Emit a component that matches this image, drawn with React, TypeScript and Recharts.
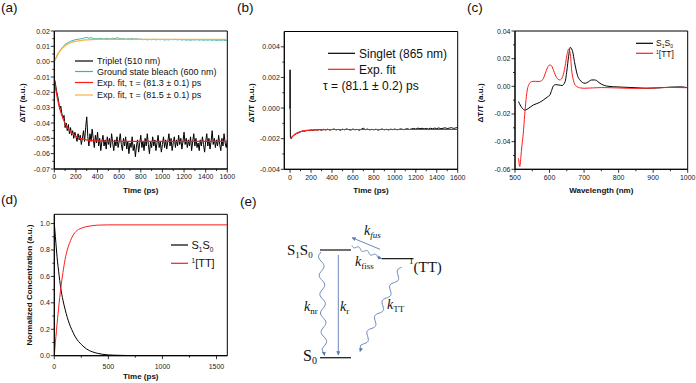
import React from 'react';
import { LineChart, Line, XAxis, YAxis, ReferenceArea } from 'recharts';

const SANS = 'Arial, "Liberation Sans", Helvetica, sans-serif';
const SERIF = '"Times New Roman", "Liberation Serif", serif';
const RED = '#ff1a1a';
const TEAL = '#3ab4b4';
const ORANGE = '#f6b042';
const BLUE = '#5a7bb0';

// ---------- (a) kinetics at 510 / 600 nm ----------
// triplet trace, one value every 10 ps from 0 ps
const tripletVals = [
  -0.011, -0.014, -0.019, -0.022, -0.026, -0.031, -0.029, -0.034, -0.037, -0.035,
  -0.043, -0.040, -0.045, -0.041, -0.047, -0.043, -0.048, -0.045, -0.050, -0.046,
  -0.049, -0.052, -0.047, -0.051, -0.048, -0.054, -0.050, -0.045, -0.052, -0.043,
  -0.036, -0.049, -0.055, -0.047, -0.052, -0.044, -0.050, -0.056, -0.048, -0.053,
  -0.046, -0.055, -0.050, -0.058, -0.052, -0.048, -0.055, -0.051, -0.057, -0.049,
  -0.054, -0.050, -0.056, -0.047, -0.053, -0.058, -0.051, -0.055, -0.049, -0.056,
  -0.052, -0.047, -0.054, -0.058, -0.050, -0.055, -0.049, -0.057, -0.052, -0.060,
  -0.053, -0.056, -0.049, -0.058, -0.054, -0.062, -0.055, -0.051, -0.059, -0.053,
  -0.048, -0.056, -0.052, -0.058, -0.050, -0.055, -0.047, -0.054, -0.060, -0.052,
  -0.056, -0.049, -0.055, -0.051, -0.058, -0.053, -0.048, -0.056, -0.052, -0.059,
  -0.054, -0.049, -0.056, -0.051, -0.057, -0.052, -0.047, -0.055, -0.050, -0.058,
  -0.053, -0.049, -0.056, -0.051, -0.055, -0.048, -0.054, -0.050, -0.057, -0.052,
  -0.046, -0.054, -0.050, -0.056, -0.051, -0.055, -0.049, -0.058, -0.052, -0.047,
  -0.055, -0.050, -0.056, -0.053, -0.058, -0.051, -0.055, -0.049, -0.054, -0.059,
  -0.052, -0.047, -0.055, -0.050, -0.057, -0.052, -0.045, -0.054, -0.050, -0.056,
  -0.051, -0.055, -0.048, -0.054, -0.058, -0.050, -0.055, -0.047, -0.053, -0.056,
  -0.051,
];
// ground state bleach, one value every 20 ps from 0 ps
const bleachVals = [
  0.0, 0.003, 0.0058, 0.008, 0.0098, 0.0112, 0.0122, 0.013, 0.0136, 0.014,
  0.0144, 0.0146, 0.0149, 0.0151, 0.0155, 0.0158, 0.0153, 0.0156, 0.0152, 0.015,
  0.0149, 0.0152, 0.015, 0.0147, 0.0152, 0.015, 0.0148, 0.0153, 0.015, 0.0156,
  0.0152, 0.0149, 0.0151, 0.0146, 0.015, 0.0148, 0.0151, 0.0147, 0.015, 0.0146,
  0.0148, 0.0143, 0.0146, 0.0142, 0.0145, 0.0143, 0.0147, 0.0142, 0.0145, 0.0143,
  0.0146, 0.0141, 0.0144, 0.0142, 0.0145, 0.0143, 0.0146, 0.0142, 0.0145, 0.0141,
  0.0144, 0.014, 0.0143, 0.0139, 0.0143, 0.0141, 0.0144, 0.014, 0.0143, 0.0139,
  0.0142, 0.014, 0.0143, 0.0139, 0.0142, 0.0138, 0.0141, 0.0139, 0.0142, 0.0138,
  0.014,
];
const tripletFit = [
  [0, -0.012], [10, -0.0166], [20, -0.0207], [30, -0.0244], [40, -0.0276], [50, -0.0304],
  [60, -0.0329], [80, -0.037], [100, -0.0403], [120, -0.0429], [140, -0.0448], [160, -0.0464],
  [180, -0.0476], [200, -0.0486], [250, -0.0502], [300, -0.051], [350, -0.0515], [400, -0.0517],
  [500, -0.0519], [700, -0.052], [1600, -0.052],
];
const bleachFit = [
  [0, 0], [10, 0.0017], [20, 0.0032], [40, 0.0057], [60, 0.0076], [80, 0.0092], [100, 0.0104],
  [120, 0.0113], [140, 0.012], [160, 0.0126], [200, 0.0133], [250, 0.0139], [300, 0.0142],
  [400, 0.0145], [500, 0.0146], [1600, 0.0146],
];

// ---------- (b) singlet at 865 nm ----------
const singletHead = [[-8, 0.0], [-1, 0.0], [0, 0.0025], [3, -0.0019], [10, -0.002]];
// one value every 20 ps from 20 ps
const singletVals = [
  -0.00188, -0.00176, -0.00166, -0.00162, -0.00155, -0.0015, -0.00151, -0.00146, -0.00147, -0.00143,
  -0.00146, -0.00141, -0.00144, -0.0014, -0.00145, -0.00139, -0.00143, -0.00138, -0.00144, -0.0014,
  -0.00137, -0.00143, -0.00139, -0.00145, -0.00138, -0.00142, -0.00136, -0.00141, -0.00144, -0.00137,
  -0.00142, -0.00139, -0.00145, -0.00138, -0.00132, -0.00141, -0.00137, -0.00143, -0.00139, -0.00142,
  -0.00138, -0.00144, -0.0014, -0.00137, -0.00142, -0.00139, -0.00143, -0.00138, -0.00141, -0.00137,
  -0.00142, -0.00139, -0.00136, -0.00141, -0.00138, -0.00135, -0.0014, -0.00136, -0.00133, -0.00137,
  -0.00131, -0.00135, -0.00132, -0.00136, -0.00133, -0.00137, -0.00132, -0.00135, -0.00131, -0.00134,
  -0.0013, -0.00135, -0.00132, -0.00129, -0.00134, -0.00131, -0.00128, -0.00133, -0.0013, -0.00127,
];
const singletFit = [
  [5, -0.002], [20, -0.00187], [40, -0.00175], [60, -0.00166], [80, -0.00159], [100, -0.00154],
  [150, -0.00147], [200, -0.00144], [300, -0.00141], [400, -0.0014], [1600, -0.0014],
];

// ---------- (c) spectra ----------
const s1s0Spectrum = [
  [510, -0.011], [520, -0.0155], [529, -0.0172], [540, -0.0158], [553, -0.0135], [570, -0.0118],
  [582, -0.0099], [595, -0.0075], [601, -0.0063], [606, -0.003], [611, 0.0003], [618, 0.0012],
  [626, 0.001], [636, 0.0006], [645, 0.0033], [650, 0.011], [655, 0.0214], [660, 0.0282],
  [664, 0.027], [667, 0.025], [672, 0.018], [677, 0.0118], [682, 0.007], [688, 0.0046],
  [695, 0.0028], [703, 0.0022], [712, 0.0032], [722, 0.0046], [731, 0.0046], [740, 0.0034],
  [746, 0.0022], [755, 0.001], [765, 0.0002], [785, -0.0003], [810, -0.0006], [850, -0.001],
  [880, -0.0014], [910, -0.0012], [950, -0.0006], [980, -0.0004], [1000, -0.001],
];
const ttSpectrum = [
  [510, -0.052], [514, -0.058], [517, -0.051], [520, -0.043], [524, -0.034], [528, -0.021],
  [532, -0.0095], [536, -0.002], [540, 0.0012], [545, 0.003], [552, 0.0036], [560, 0.0036],
  [570, 0.0035], [580, 0.0048], [588, 0.0095], [594, 0.0135], [600, 0.0154], [606, 0.0148],
  [612, 0.0112], [620, 0.0065], [630, 0.0046], [638, 0.007], [645, 0.0145], [650, 0.022],
  [655, 0.0268], [660, 0.0235], [664, 0.0118], [669, 0.0045], [677, 0.0002], [690, -0.0012],
  [700, -0.0014], [750, -0.0009], [800, -0.0012], [850, -0.0015], [900, -0.0012], [950, -0.0008],
  [1000, -0.001],
];

// ---------- (d) population model ----------
const s1s0Pop = [
  [0, 1.0], [10, 0.9], [20, 0.8], [30, 0.71], [40, 0.64], [50, 0.57], [60, 0.51], [80, 0.42],
  [100, 0.35], [120, 0.29], [140, 0.24], [160, 0.2], [180, 0.165], [200, 0.135], [250, 0.085],
  [300, 0.05], [350, 0.03], [400, 0.018], [450, 0.01], [500, 0.006], [600, 0.003], [700, 0.001],
  [800, 0.0], [1600, 0.0],
];
const ttPop = [
  [0, 0.0], [10, 0.1], [20, 0.19], [30, 0.28], [40, 0.36], [50, 0.44], [60, 0.51], [80, 0.63],
  [100, 0.73], [120, 0.8], [140, 0.85], [160, 0.89], [180, 0.92], [200, 0.94], [250, 0.965],
  [300, 0.977], [350, 0.984], [400, 0.988], [500, 0.99], [1600, 0.99],
];

// ---------- axis ticks ----------
const aXMajor = [0, 200, 400, 600, 800, 1000, 1200, 1400, 1600];
const aYMajor = [-0.07, -0.06, -0.05, -0.04, -0.03, -0.02, -0.01, 0, 0.01, 0.02];
const bYMajor = [-0.004, -0.002, 0, 0.002, 0.004];
const cXMajor = [500, 600, 700, 800, 900, 1000];
const cYMajor = [-0.06, -0.04, -0.02, 0, 0.02, 0.04];
const dXMajor = [0, 500, 1000, 1500];
const dYMajor = [0, 0.2, 0.4, 0.6, 0.8, 1.0];

type Pt = { x: number; y: number };
const fromPairs = (arr: number[][]): Pt[] => arr.map(([x, y]) => ({ x, y }));
const fromStep = (vals: number[], start: number, step: number): Pt[] =>
  vals.map((y, i) => ({ x: start + i * step, y }));
const withMinors = (major: number[]) => {
  const out: number[] = [];
  major.forEach((m, i) => {
    out.push(m);
    if (i < major.length - 1) out.push(+((m + major[i + 1]) / 2).toFixed(6));
  });
  return out;
};

type Series = { data: Pt[]; color: string; smooth?: boolean; width?: number };

function Panel(props: {
  left: number; top: number; width: number; height: number;
  plot: [number, number, number, number];
  xDomain: [number, number]; yDomain: [number, number];
  xMajor: number[]; yMajor: number[];
  xFmt: (v: number) => string; yFmt: (v: number) => string;
  xGap: number; series: Series[];
}) {
  const YW = 40;
  const XH = 20;
  const [x0, y0, x1, y1] = props.plot;
  const margin = { top: y0, left: x0 - YW, right: props.width - x1, bottom: props.height - y1 - XH };
  const xTol = (props.xDomain[1] - props.xDomain[0]) * 1e-6;
  const yTol = (props.yDomain[1] - props.yDomain[0]) * 1e-6;
  const xTicks = withMinors(props.xMajor);
  const yTicks = withMinors(props.yMajor);
  const xIsMajor = (v: number) => props.xMajor.some((m) => Math.abs(m - v) < xTol);
  const yIsMajor = (v: number) => props.yMajor.some((m) => Math.abs(m - v) < yTol);

  const renderXTick = (p: any) => {
    const v = p.payload.value;
    const major = xIsMajor(v);
    return (
      <g>
        <line x1={p.x} x2={p.x} y1={p.y} y2={p.y + (major ? 3.5 : 2)} stroke="#000" strokeWidth={0.8} />
        {major && (
          <text x={p.x} y={p.y + props.xGap} textAnchor="middle" fontSize={7} fontFamily={SANS} fill="#222">
            {props.xFmt(v)}
          </text>
        )}
      </g>
    );
  };
  const renderYTick = (p: any) => {
    const v = p.payload.value;
    const major = yIsMajor(v);
    return (
      <g>
        <line x1={p.x - (major ? 3.5 : 2)} x2={p.x} y1={p.y} y2={p.y} stroke="#000" strokeWidth={0.8} />
        {major && (
          <text x={p.x - 4.5} y={p.y + 2.5} textAnchor="end" fontSize={7} fontFamily={SANS} fill="#222">
            {props.yFmt(v)}
          </text>
        )}
      </g>
    );
  };

  return (
    <div style={{ position: 'absolute', left: props.left, top: props.top }}>
      <LineChart width={props.width} height={props.height} margin={margin}>
        <XAxis
          type="number" dataKey="x" domain={props.xDomain} allowDataOverflow ticks={xTicks} interval={0}
          height={XH} tickSize={0} tickMargin={0} tickLine={false} axisLine={{ stroke: '#000' }} tick={renderXTick}
        />
        <YAxis
          type="number" dataKey="y" domain={props.yDomain} allowDataOverflow ticks={yTicks} interval={0}
          width={YW} tickSize={0} tickMargin={0} tickLine={false} axisLine={{ stroke: '#000' }} tick={renderYTick}
        />
        <ReferenceArea
          x1={props.xDomain[0]} x2={props.xDomain[1]} y1={props.yDomain[0]} y2={props.yDomain[1]}
          fill="none" fillOpacity={0} stroke="#000" strokeWidth={1} strokeOpacity={1}
        />
        {props.series.map((s, i) => (
          <Line
            key={i} data={s.data} dataKey="y" type={s.smooth ? 'monotone' : 'linear'} stroke={s.color}
            strokeWidth={s.width || 1} dot={false} activeDot={false} isAnimationActive={false}
          />
        ))}
      </LineChart>
    </div>
  );
}

// sine-wiggled path used for the non-radiative arrows in (e)
function wavy(x1: number, y1: number, x2: number, y2: number, amp: number, periods: number) {
  const dx = x2 - x1;
  const dy = y2 - y1;
  const len = Math.hypot(dx, dy);
  const nx = -dy / len;
  const ny = dx / len;
  const n = 90;
  let d = '';
  for (let i = 0; i <= n; i++) {
    const t = i / n;
    const fade = i > n - 6 ? (n - i) / 6 : 1;
    const off = amp * Math.sin(t * periods * 2 * Math.PI) * fade;
    d += (i ? 'L' : 'M') + (x1 + dx * t + nx * off).toFixed(2) + ' ' + (y1 + dy * t + ny * off).toFixed(2);
  }
  return d;
}

const legendA = [
  { color: '#000', label: 'Triplet (510 nm)', y: 61 },
  { color: TEAL, label: 'Ground state bleach (600 nm)', y: 71.5 },
  { color: RED, label: 'Exp. fit, \u03c4 = (81.3 \u00b1 0.1) ps', y: 82.5 },
  { color: ORANGE, label: 'Exp. fit, \u03c4 = (81.5 \u00b1 0.1) ps', y: 95 },
];

function Overlay() {
  const t = { fontFamily: SANS, fill: '#111' };
  const title = { fontFamily: SANS, fontWeight: 700, fontSize: 8, fill: '#111', textAnchor: 'middle' as const };
  const sx = { fontFamily: SERIF, fill: '#111' };
  return (
    <svg width={696} height={383} style={{ position: 'absolute', left: 0, top: 0, pointerEvents: 'none' }}>
      <defs>
        <marker id="ah" viewBox="0 0 10 10" refX="9" refY="5" markerWidth="4.5" markerHeight="4.5" orient="auto">
          <path d="M0,0 L10,5 L0,10 z" fill={BLUE} />
        </marker>
      </defs>
      {/* panel letters */}
      <text x={1} y={11.5} fontSize={13.5} {...t}>(a)</text>
      <text x={237} y={11.5} fontSize={13.5} {...t}>(b)</text>
      <text x={467} y={11.5} fontSize={13.5} {...t}>(c)</text>
      <text x={1} y={203.5} fontSize={13.5} {...t}>(d)</text>
      <text x={240} y={205.5} fontSize={13.5} {...t}>(e)</text>

      {/* axis titles */}
      <text x={140.7} y={192.5} {...title}>Time (ps)</text>
      <text x={371} y={192.5} {...title}>Time (ps)</text>
      <text x={601.3} y={192.5} {...title}>Wavelength (nm)</text>
      <text x={140.8} y={379} {...title}>Time (ps)</text>
      <text transform="translate(25,103) rotate(-90)" {...title}>{'\u0394T/T (a.u.)'}</text>
      <text transform="translate(253.5,103) rotate(-90)" {...title}>{'\u0394T/T (a.u.)'}</text>
      <text transform="translate(483,103) rotate(-90)" {...title}>{'\u0394T/T (a.u.)'}</text>
      <text transform="translate(32,285) rotate(-90)" {...title}>Normalized Concentration (a.u.)</text>

      {/* legend (a) */}
      {legendA.map((r) => (
        <g key={r.label}>
          <line x1={75} x2={93} y1={r.y} y2={r.y} stroke={r.color} strokeWidth={1.2} />
          <text x={97} y={r.y + 3.2} fontSize={9} {...t}>{r.label}</text>
        </g>
      ))}

      {/* legend (b) */}
      <line x1={328} x2={355} y1={53.3} y2={53.3} stroke="#000" strokeWidth={1.2} />
      <text x={359} y={57.5} fontSize={12} {...t}>Singlet (865 nm)</text>
      <line x1={328} x2={355} y1={69.3} y2={69.3} stroke={RED} strokeWidth={1.2} />
      <text x={359} y={73.5} fontSize={12} {...t}>Exp. fit</text>
      <text x={323} y={89.5} fontSize={12} {...t}>{'\u03c4 = (81.1 \u00b1 0.2) ps'}</text>

      {/* legend (c) */}
      <line x1={636} x2={653} y1={43.3} y2={43.3} stroke="#000" strokeWidth={1.2} />
      <text x={656} y={46.3} fontSize={8.5} {...t}>
        S<tspan fontSize={5} dy={2}>1</tspan><tspan dy={-2}>S</tspan><tspan fontSize={5} dy={2}>0</tspan>
      </text>
      <line x1={636} x2={653} y1={53.3} y2={53.3} stroke={RED} strokeWidth={1.2} />
      <text x={656} y={56.5} fontSize={8.5} {...t}>
        <tspan fontSize={5} dy={-3}>1</tspan><tspan dy={3}>[TT]</tspan>
      </text>

      {/* legend (d) */}
      <line x1={171} x2={188} y1={245} y2={245} stroke="#000" strokeWidth={1.2} />
      <text x={191.5} y={249} fontSize={11} {...t}>
        S<tspan fontSize={6.5} dy={2.5}>1</tspan><tspan dy={-2.5}>S</tspan><tspan fontSize={6.5} dy={2.5}>0</tspan>
      </text>
      <line x1={171} x2={188} y1={263.3} y2={263.3} stroke={RED} strokeWidth={1.2} />
      <text x={191.5} y={267.3} fontSize={11} {...t}>
        <tspan fontSize={6.5} dy={-4}>1</tspan><tspan dy={4}>[TT]</tspan>
      </text>

      {/* (e) energy diagram */}
      <line x1={320} x2={351} y1={250} y2={250} stroke="#222" strokeWidth={1.3} />
      <line x1={381.5} x2={413.5} y1={258.7} y2={258.7} stroke="#222" strokeWidth={1.3} />
      <line x1={320} x2={351} y1={357.7} y2={357.7} stroke="#222" strokeWidth={1.3} />
      <text x={287} y={255} fontSize={15} {...sx}>
        S<tspan fontSize={9} dy={3}>1</tspan><tspan dy={-3}>S</tspan><tspan fontSize={9} dy={3}>0</tspan>
      </text>
      <text x={303} y={361} fontSize={16} {...sx}>
        S<tspan fontSize={10} dy={3}>0</tspan>
      </text>
      <text x={409} y={272} fontSize={15} {...sx}>
        <tspan fontSize={9} dy={-8}>1</tspan><tspan dy={8}>(TT)</tspan>
      </text>

      <line x1={380} y1={249.3} x2={352} y2={237.7} stroke={BLUE} strokeWidth={0.9} markerEnd="url(#ah)" />
      <path d={wavy(352, 245.5, 381.5, 258.3, 1.4, 3.5)} fill="none" stroke={BLUE} strokeWidth={0.9} markerEnd="url(#ah)" />
      <line x1={338.3} y1={255} x2={338.3} y2={355} stroke={BLUE} strokeWidth={0.9} markerEnd="url(#ah)" />
      <path d={wavy(321, 252, 324.5, 355.5, 2.6, 5.5)} fill="none" stroke={BLUE} strokeWidth={0.9} markerEnd="url(#ah)" />
      <path d={wavy(401.7, 267.3, 360, 351.5, 2.6, 5.5)} fill="none" stroke={BLUE} strokeWidth={0.9} markerEnd="url(#ah)" />

      <text x={364} y={235} fontSize={14} fontStyle="italic" {...sx}>
        k<tspan fontSize={9} dy={3}>fus</tspan>
      </text>
      <text x={355} y={266} fontSize={14} {...sx}>
        <tspan fontStyle="italic">k</tspan><tspan fontSize={9} dy={3}>fiss</tspan>
      </text>
      <text x={304} y={311} fontSize={14} {...sx}>
        <tspan fontStyle="italic">k</tspan><tspan fontSize={9} dy={3}>nr</tspan>
      </text>
      <text x={340} y={311} fontSize={14} {...sx}>
        <tspan fontStyle="italic">k</tspan><tspan fontSize={9} dy={3}>r</tspan>
      </text>
      <text x={387} y={309} fontSize={14} {...sx}>
        <tspan fontStyle="italic">k</tspan><tspan fontSize={9} dy={3}>TT</tspan>
      </text>
    </svg>
  );
}

export default function App() {
  const f2 = (v: number) => v.toFixed(2);
  const f3 = (v: number) => v.toFixed(3);
  const f0 = (v: number) => String(Math.round(v));
  return (
    <div style={{ position: 'absolute', left: 0, top: 0, width: 696, height: 383, background: '#fff' }}>
      <Panel
        left={0} top={0} width={240} height={200} plot={[54.3, 31, 227.3, 169]}
        xDomain={[0, 1600]} yDomain={[-0.07, 0.02]} xMajor={aXMajor} yMajor={aYMajor}
        xFmt={f0} yFmt={f2} xGap={10.3}
        series={[
          { data: fromStep(tripletVals, 0, 10), color: '#000' },
          { data: fromStep(bleachVals, 0, 20), color: TEAL },
          { data: fromPairs(tripletFit), color: RED, smooth: true, width: 1.2 },
          { data: fromPairs(bleachFit), color: ORANGE, smooth: true, width: 1.2 },
        ]}
      />
      <Panel
        left={230} top={0} width={240} height={200} plot={[54.3, 31.5, 227.7, 169.3]}
        xDomain={[-55, 1600]} yDomain={[-0.004, 0.005]} xMajor={aXMajor} yMajor={bYMajor}
        xFmt={f0} yFmt={f3} xGap={10.3}
        series={[
          { data: fromPairs(singletHead).concat(fromStep(singletVals, 20, 20)), color: '#000' },
          { data: fromPairs(singletFit), color: RED, smooth: true, width: 1.2 },
        ]}
      />
      <Panel
        left={460} top={0} width={236} height={200} plot={[55, 31, 227.7, 169.3]}
        xDomain={[500, 1000]} yDomain={[-0.06, 0.04]} xMajor={cXMajor} yMajor={cYMajor}
        xFmt={f0} yFmt={f2} xGap={10.3}
        series={[
          { data: fromPairs(s1s0Spectrum), color: '#000', smooth: true },
          { data: fromPairs(ttSpectrum), color: RED, smooth: true },
        ]}
      />
      <Panel
        left={0} top={190} width={240} height={193} plot={[54.3, 24.3, 227.3, 165.7]}
        xDomain={[0, 1600]} yDomain={[0, 1.07]} xMajor={dXMajor} yMajor={dYMajor}
        xFmt={f0} yFmt={(v) => v.toFixed(1)} xGap={13.5}
        series={[
          { data: fromPairs(s1s0Pop), color: '#000', smooth: true },
          { data: fromPairs(ttPop), color: RED, smooth: true },
        ]}
      />
      <Overlay />
    </div>
  );
}
